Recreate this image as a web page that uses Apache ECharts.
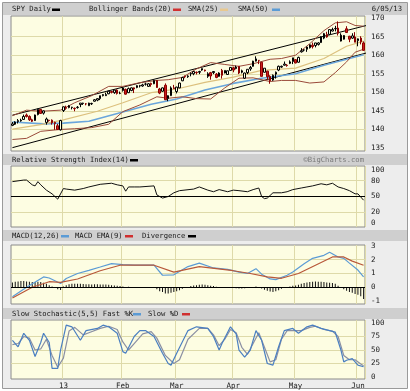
<!DOCTYPE html>
<html><head><meta charset="utf-8">
<script src="https://cdn.jsdelivr.net/npm/echarts@6/dist/echarts.min.js"></script>
<style>html,body{margin:0;padding:0;background:#fff}#c{width:410px;height:391px}</style>
</head><body><div id="c"></div><script>
// trading-day index 0 = Dec 5 2012 ... 124 = Jun 5 2013
const monthStarts = [18, 39, 58, 78, 100, 122];
const monthLabels = ['13', 'Feb', 'Mar', 'Apr', 'May', 'Jun'];
const priceTicks = [135, 140, 145, 150, 155, 160, 165, 170];
const rsiTicks = [0, 20, 50, 80, 100];
const macdTicks = [-1, 0, 1, 2, 3];
const stochTicks = [0, 25, 50, 75, 100];

const opens = [141.1,141.4,142.1,142.3,142.7,143.9,143.5,142.6,142.4,144.0,145.4,144.4,141.9,142.5,142.5,141.9,141.0,139.9,
145.1,145.9,145.9,145.9,145.7,145.9,146.7,147.0,146.9,146.4,146.9,147.6,147.9,148.3,149.1,149.1,149.6,150.2,149.9,150.6,149.7,
150.5,150.8,149.9,150.5,151.2,151.3,151.7,151.7,152.2,151.6,152.4,152.3,153.2,150.9,150.3,151.9,148.3,149.1,151.2,
150.2,151.2,153.1,154.3,154.2,155.0,155.0,155.4,155.4,156.0,156.0,154.3,155.3,155.3,154.9,154.3,155.9,155.2,154.8,155.9,
156.6,156.4,157.0,155.4,153.8,155.3,156.3,157.0,158.4,158.6,158.1,155.4,155.7,154.3,153.3,154.9,156.0,156.8,157.3,157.3,157.8,158.3,
158.8,158.1,160.9,161.4,161.6,162.0,162.7,162.6,162.9,163.4,164.6,165.6,165.6,166.5,167.1,167.3,163.8,164.3,167.1,165.1,164.6,164.9,
163.9,164.6,163.3];
const highs = [142.0,142.2,142.8,142.9,144.0,144.3,143.8,142.9,144.0,145.6,145.5,145.1,143.2,142.6,142.7,142.1,141.5,142.6,
146.2,146.4,146.6,146.1,145.9,146.3,147.1,147.2,147.1,147.2,147.2,148.2,148.4,149.1,149.5,149.9,150.4,150.4,150.6,150.8,150.2,
151.4,151.0,151.3,151.3,151.3,151.9,152.0,152.3,152.6,152.5,152.6,153.3,153.3,151.2,151.3,152.4,149.2,151.6,152.0,
151.5,152.6,154.2,154.5,154.6,155.3,155.6,155.6,155.8,156.4,156.1,155.4,155.5,155.7,155.2,155.4,156.3,155.9,155.8,156.8,
156.9,157.2,157.0,156.1,155.3,156.2,157.1,158.5,159.7,158.7,158.1,156.5,155.8,154.6,154.8,155.6,157.2,157.2,158.3,157.6,158.6,159.3,
158.9,159.6,161.9,161.6,162.3,162.9,163.4,163.3,163.5,165.1,166.0,166.3,166.9,167.4,167.9,169.1,165.9,165.4,167.8,165.2,165.9,166.2,
164.5,165.1,163.7];
const lows = [140.9,141.2,141.6,142.1,142.6,143.2,142.3,142.0,142.3,143.8,144.2,144.0,141.3,142.1,141.3,139.9,139.9,139.7,
144.7,145.3,145.7,145.4,144.9,145.6,146.0,146.6,146.5,146.3,146.6,147.5,147.6,147.9,148.9,149.0,149.5,149.7,149.6,149.4,149.5,
150.2,149.4,149.8,150.3,149.8,151.1,151.3,151.5,151.8,151.5,151.5,152.2,151.2,149.5,150.1,148.0,147.6,149.0,151.0,
149.7,151.1,153.0,153.8,153.9,154.3,154.6,154.8,154.9,155.8,155.6,153.9,153.4,154.9,153.8,154.2,153.7,155.1,154.7,155.8,
155.4,156.2,154.9,155.1,153.6,154.9,155.8,156.9,158.3,157.6,154.3,155.3,153.3,152.3,153.1,153.7,155.7,156.6,157.2,156.9,157.6,157.6,
157.8,158.0,160.7,161.0,160.9,161.8,161.8,162.1,162.6,163.3,164.3,164.7,165.4,166.4,166.4,165.3,163.7,164.2,166.0,163.5,164.4,163.5,
162.4,162.9,161.2];
const closes = [141.5,142.0,142.4,142.5,143.5,143.5,142.6,142.2,143.9,145.4,144.3,145.0,142.8,142.4,141.8,141.6,140.0,142.4,
146.1,145.7,146.4,146.0,145.6,146.0,147.1,147.1,146.9,147.1,147.0,148.0,148.3,149.1,149.4,149.4,150.3,150.0,150.6,149.7,149.7,
151.2,149.5,151.0,151.2,150.9,151.8,151.8,152.0,152.2,152.3,152.1,153.2,151.3,149.8,151.2,148.0,149.1,151.2,151.0,
151.4,152.5,154.0,154.2,154.4,155.1,155.6,155.3,155.6,156.4,155.8,155.0,154.4,155.6,154.0,155.2,154.6,155.9,155.8,156.7,
156.0,156.8,155.2,155.8,155.2,156.2,156.7,158.4,159.0,158.6,154.3,156.5,154.2,153.1,154.6,155.4,157.0,157.0,157.6,157.2,158.2,159.3,
157.9,159.4,161.2,161.4,162.2,162.8,162.3,163.3,163.3,165.0,165.8,164.9,166.9,166.9,167.2,165.9,165.4,165.3,166.1,164.3,165.2,163.5,
164.4,163.6,161.3];

// overlay lines: [dayIndex, value]
const bbUpper = [[0,143.7],[5,145.2],[10,144.9],[17,145.2],[22,147.2],[28,149.1],[34,151.6],[39,151.6],[45,152.6],[51,153.2],[55,153.4],[60,154.0],[65,156.3],[70,158.0],[75,157.5],[80,157.0],[85,157.7],[91,158.9],[95,159.1],[100,160.0],[105,163.1],[110,166.6],[114,168.7],[118,169.0],[121,168.0],[124,167.8]];
const bbLower = [[0,137.3],[5,137.6],[10,139.5],[17,140.0],[22,140.2],[28,140.5],[34,141.4],[39,144.8],[45,146.6],[51,148.8],[55,148.4],[60,148.8],[65,148.3],[70,148.2],[75,151.2],[80,153.8],[85,153.9],[91,152.9],[95,153.2],[100,153.2],[105,152.5],[110,152.8],[114,155.3],[118,158.2],[121,160.8],[124,161.6]];
const sma25 = [[0,140.1],[10,141.3],[18,142.6],[30,144.9],[39,147.2],[49,149.9],[58,150.9],[68,152.7],[78,154.1],[88,155.9],[100,156.5],[110,159.1],[118,162.4],[124,163.8]];
const sma50 = [[0,142.0],[11,141.5],[18,141.7],[27,142.2],[39,144.7],[49,146.8],[58,148.2],[68,150.6],[78,152.4],[88,153.8],[100,155.0],[110,157.3],[124,160.1]];
const trendUpper = [[-0.5,143.85],[124.5,168.0]];
const trendLower = [[-0.5,135.1],[124.5,160.6]];

const rsi = [[0,78],[4,81],[5,81],[7,72],[8,70],[9,78],[10,72],[12,62],[14,55],[16,45],[18,65],[19,64],[22,62],[25,65],[27,68],[31,73],[35,75],[37,72],[39,70],[40,60],[41,68],[43,68],[45,68],[50,70],[51,53],[53,47],[55,50],[57,57],[59,61],[64,64],[66,68],[69,62],[71,59],[73,63],[76,59],[78,62],[80,61],[83,59],[85,63],[87,66],[88,50],[89,46],[90,47],[92,57],[95,57],[97,59],[99,63],[102,66],[104,68],[106,70],[109,74],[111,72],[113,75],[115,68],[117,65],[119,61],[121,55],[122,55],[124,43]];

const macd = [[0,-0.7],[5,0.0],[11,0.75],[13,0.67],[17,0.27],[19,0.63],[23,1.0],[27,1.23],[31,1.47],[35,1.72],[39,1.65],[43,1.6],[50,1.6],[53,0.87],[57,0.9],[62,1.5],[66,1.75],[71,1.4],[76,1.3],[80,1.1],[83,1.0],[86,1.35],[88,0.95],[91,0.6],[93,0.55],[97,0.87],[99,1.1],[103,1.7],[106,2.1],[110,2.32],[112,2.55],[115,2.2],[117,2.1],[119,1.75],[122,1.25],[124,0.75]];
const macdSignal = [[0,-0.78],[7,0.0],[13,0.4],[17,0.35],[23,0.6],[31,1.2],[38,1.6],[50,1.6],[57,1.1],[66,1.5],[78,1.2],[84,1.0],[90,0.75],[95,0.65],[101,1.0],[113,2.2],[117,2.2],[120,1.9],[124,1.6]];
const divergence = [0.35,0.4,0.42,0.45,0.45,0.42,0.4,0.38,0.38,0.4,0.38,0.32,0.25,0.15,0.05,-0.05,-0.15,-0.2,
0.05,0.15,0.22,0.25,0.25,0.25,0.25,0.24,0.22,0.22,0.2,0.22,0.22,0.2,0.2,0.2,0.18,0.15,0.12,0.1,0.08,
0.05,0.02,0.03,0.02,0,0.02,0.02,0.01,0,0,0,0.02,-0.15,-0.3,-0.35,-0.45,-0.45,-0.4,-0.35,
-0.3,-0.22,-0.12,-0.05,0.02,0.08,0.12,0.15,0.18,0.2,0.18,0.15,0.1,0.08,0.04,-0.02,-0.05,-0.06,-0.06,-0.05,
-0.06,-0.08,-0.1,-0.1,-0.08,-0.05,-0.03,0.02,0.05,0.0,-0.1,-0.18,-0.25,-0.32,-0.35,-0.3,-0.22,-0.12,-0.05,0.0,0.05,0.1,
0.12,0.18,0.25,0.3,0.35,0.38,0.4,0.42,0.4,0.4,0.38,0.35,0.33,0.3,0.25,0.1,-0.05,-0.15,-0.25,-0.35,-0.4,-0.5,
-0.55,-0.65,-0.85];

const stochK = [[0,68],[2,56],[4,81],[6,68],[8,38],[10,64],[11,81],[13,64],[14,16],[16,16],[17,50],[19,96],[21,93],[24,68],[26,86],[30,90],[32,96],[34,93],[37,81],[39,47],[40,44],[43,75],[45,86],[47,86],[50,75],[53,44],[55,25],[56,22],[58,44],[62,86],[65,93],[69,90],[71,75],[73,50],[74,62],[77,93],[79,80],[80,50],[82,37],[84,50],[86,86],[88,68],[90,25],[92,22],[94,56],[96,86],[99,90],[101,81],[104,93],[106,96],[109,90],[112,86],[114,83],[116,50],[117,28],[118,31],[120,34],[122,22],[124,19]];
const stochD = [[0,60],[2,62],[4,75],[6,72],[8,50],[10,52],[12,70],[14,40],[16,18],[18,35],[20,85],[22,92],[25,78],[27,82],[31,90],[34,94],[37,88],[39,65],[41,50],[43,62],[46,80],[49,84],[51,72],[54,40],[57,25],[59,32],[62,70],[66,90],[69,90],[71,78],[73,58],[75,70],[77,88],[79,82],[81,55],[83,42],[85,62],[87,82],[89,55],[91,28],[93,32],[95,70],[97,86],[100,86],[102,86],[105,92],[107,94],[110,88],[113,85],[115,75],[117,40],[119,32],[121,32],[123,24],[124,21]];

// ---------------------------------------------------------------
const days = closes.map((_, i) => String(i));
const candles = closes.map((c, i) => [opens[i], c, lows[i], highs[i]]);
const FONT = '"DejaVu Sans Mono", monospace';
const GRIDC = '#dedaa9';
const PLOTBG = '#fdfde2';
const L = 11, W = 354;
const grids = [
  {left: L, width: W, top: 16, height: 135},
  {left: L, width: W, top: 166, height: 61},
  {left: L, width: W, top: 245, height: 59},
  {left: L, width: W, top: 320, height: 59}
].map(g => Object.assign(g, {show: true, backgroundColor: PLOTBG, borderColor: '#8a8a8a', borderWidth: 1}));

function xAx(gi, labels) {
  return {
    type: 'category', gridIndex: gi, data: days, boundaryGap: true,
    axisLine: {show: false}, axisTick: {show: false},
    splitLine: {show: true, interval: (idx) => monthStarts.includes(idx), lineStyle: {color: GRIDC, width: 1}},
    axisLabel: labels ? {
      show: true, interval: (idx) => monthStarts.includes(idx),
      formatter: (v) => monthLabels[monthStarts.indexOf(+v)],
      fontFamily: FONT, fontSize: 7.5, color: '#222', margin: 3
    } : {show: false}
  };
}
function yAx(gi, min, max, labels, lines) {
  return {
    type: 'value', gridIndex: gi, position: 'right', min, max, scale: true,
    axisLine: {show: false},
    axisTick: {show: false, customValues: lines},
    splitLine: {show: true, lineStyle: {color: GRIDC, width: 1}},
    axisLabel: {customValues: labels, fontFamily: FONT, fontSize: 7.5, color: '#222', margin: 6}
  };
}
function line(data, color, xi, w) {
  return {type: 'line', data, xAxisIndex: xi, yAxisIndex: xi, showSymbol: false, symbol: 'none',
    lineStyle: {color, width: w || 1}, silent: true, animation: false, z: 3};
}
function hline(v) {
  return {silent: true, symbol: ['none', 'none'], label: {show: false}, animation: false,
    lineStyle: {color: '#000', width: 1, type: 'solid'}, data: [{yAxis: v}]};
}

const g = [];
g.push({type: 'rect', z: -100, shape: {x: 2.5, y: 2.5, width: 405, height: 386}, style: {fill: '#ededed', stroke: '#9a9a9a', lineWidth: 1}});
[[3, 12], [154, 11], [230, 11], [308, 11]].forEach(([y, h]) => g.push({type: 'rect', z: -99, shape: {x: 3, y, width: 404, height: h}, style: {fill: '#cfcfcf'}}));
function txt(s, x, y, fill, align) {
  g.push({type: 'text', z: 10, x, y, style: {text: s, fill: fill || '#1a1a1a', font: '7.2px ' + FONT, textAlign: align || 'left', textVerticalAlign: 'middle', align: align || 'left', verticalAlign: 'middle'}});
}
function dash(x, y, color) {
  g.push({type: 'rect', z: 10, shape: {x, y: y - 1, width: 8, height: 2.5}, style: {fill: color}});
}
txt('SPY Daily', 12, 9.5); dash(52, 9.5, '#000');
txt('Bollinger Bands(20)', 89, 9.5); dash(173, 9.5, '#d03030');
txt('SMA(25)', 188, 9.5); dash(220, 9.5, '#e8c890');
txt('SMA(50)', 238, 9.5); dash(272, 9.5, '#5b9bd5');
txt('6/05/13', 402, 9.5, '#1a1a1a', 'right');
txt('Relative Strength Index(14)', 12, 160); dash(130, 160, '#000');
txt('\u00A9BigCharts.com', 364, 160, '#7a7a7a', 'right');
txt('MACD(12,26)', 12, 236); dash(61, 236, '#5b9bd5');
txt('MACD EMA(9)', 75, 236); dash(125, 236, '#d03030');
txt('Divergence', 142, 236); dash(188, 236, '#000');
txt('Slow Stochastic(5,5) Fast %K', 12, 314); dash(133, 314, '#5b9bd5');
txt('Slow %D', 148, 314); dash(182, 314, '#d03030');

const option = {
  animation: false,
  backgroundColor: 'transparent',
  grid: grids,
  xAxis: [xAx(0), xAx(1), xAx(2), xAx(3, true)],
  yAxis: [
    yAx(0, 134.2, 170.55, priceTicks, [140, 145, 150, 155, 160, 165]),
    yAx(1, -7.5, 107.5, rsiTicks, [20, 80]),
    yAx(2, -1.22, 3.07, macdTicks, [1, 2]),
    yAx(3, -3.7, 105.6, stochTicks, [25, 50, 75])
  ],
  graphic: {elements: g},
  series: [
    line(trendLower, '#000', 0),
    line(trendUpper, '#000', 0),
    line(sma50, '#6aa6dc', 0, 1.6),
    line(sma25, '#dcc07e', 0, 1.2),
    line(bbUpper, '#9a4a3a', 0),
    line(bbLower, '#9a4a3a', 0),
    {type: 'candlestick', data: candles, xAxisIndex: 0, yAxisIndex: 0, barWidth: 2, silent: true, z: 4,
      itemStyle: {color: PLOTBG, color0: '#cc1f1f', borderColor: '#000', borderColor0: '#8b0000', borderWidth: 1}},
    Object.assign(line(rsi, '#111', 1), {markLine: hline(50)}),
    {type: 'bar', data: divergence, xAxisIndex: 2, yAxisIndex: 2, barWidth: 1, itemStyle: {color: '#111'}, silent: true, markLine: hline(0)},
    line(macd, '#5b9bd5', 2, 1.2),
    line(macdSignal, '#b8583a', 2, 1.2),
    line(stochD, '#8a8fa3', 3, 1.2),
    line(stochK, '#4a7fc1', 3, 1.2)
  ]
};
const chart = echarts.init(document.getElementById('c'), null, {renderer: 'canvas'});
chart.setOption(option);
</script></body></html>
